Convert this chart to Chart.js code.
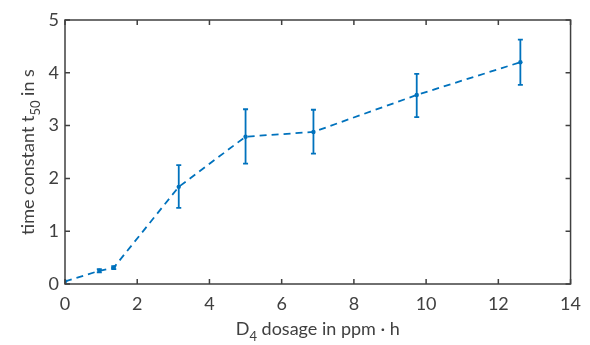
<!DOCTYPE html>
<html>
<head>
<meta charset="utf-8">
<script src="https://cdn.jsdelivr.net/npm/chart.js@4"></script>
<style>
  html, body { margin: 0; padding: 0; background: #fff; }
  #wrap { width: 590px; height: 345px; }
</style>
</head>
<body>
<div id="wrap"><canvas id="c" width="590" height="345"></canvas></div>
<script>
// D4 dosage (ppm·h) vs time constant t50 (s), with error bars
const dosage  = [0, 0.95, 1.35, 3.15, 5.0, 6.88, 9.74, 12.61];
const t50     = [0.05, 0.25, 0.31, 1.84, 2.79, 2.88, 3.58, 4.20];
const t50High = [0.05, 0.28, 0.34, 2.25, 3.31, 3.30, 3.98, 4.63];
const t50Low  = [0.05, 0.22, 0.28, 1.44, 2.28, 2.47, 3.16, 3.77];

const xTicks = [0, 2, 4, 6, 8, 10, 12, 14];
const yTicks = [0, 1, 2, 3, 4, 5];

const BLUE = "#0072BD";
const AXIS = "#404040";
const FONT = "Lato, 'Open Sans', sans-serif";

const $ = (id) => document.getElementById(id);

// error bars drawn through the scales
const errorBars = {
  id: "errorBars",
  afterDatasetsDraw(chart) {
    const { ctx, scales: { x, y } } = chart;
    ctx.save();
    ctx.strokeStyle = BLUE;
    ctx.lineWidth = 1.8;
    dosage.forEach((d, i) => {
      if (t50High[i] === t50Low[i]) return;
      const px = x.getPixelForValue(d);
      const top = y.getPixelForValue(t50High[i]);
      const bot = y.getPixelForValue(t50Low[i]);
      ctx.beginPath();
      ctx.moveTo(px, top); ctx.lineTo(px, bot);
      ctx.moveTo(px - 2.5, top); ctx.lineTo(px + 2.5, top);
      ctx.moveTo(px - 2.5, bot); ctx.lineTo(px + 2.5, bot);
      ctx.stroke();
    });
    ctx.restore();
  },
};

// MATLAB-like box with inward ticks on all sides, plus axis titles with subscripts
const frame = {
  id: "frame",
  afterDraw(chart) {
    const { ctx, chartArea: a, scales: { x, y } } = chart;
    ctx.save();
    ctx.strokeStyle = AXIS;
    ctx.lineWidth = 1.5;
    ctx.strokeRect(a.left, a.top, a.right - a.left, a.bottom - a.top);
    ctx.beginPath();
    xTicks.forEach((v) => {
      const px = x.getPixelForValue(v);
      ctx.moveTo(px, a.bottom); ctx.lineTo(px, a.bottom - 5);
      ctx.moveTo(px, a.top); ctx.lineTo(px, a.top + 5);
    });
    yTicks.forEach((v) => {
      const py = y.getPixelForValue(v);
      ctx.moveTo(a.left, py); ctx.lineTo(a.left + 5, py);
      ctx.moveTo(a.right, py); ctx.lineTo(a.right - 5, py);
    });
    ctx.stroke();

    ctx.fillStyle = AXIS;
    ctx.textBaseline = "alphabetic";
    const big = "18px " + FONT, small = "13px " + FONT;
    const drawParts = (parts, cx, cy) => {
      let w = 0;
      parts.forEach((p) => { ctx.font = p.sub ? small : big; w += ctx.measureText(p.t).width; });
      let cur = cx - w / 2;
      parts.forEach((p) => {
        ctx.font = p.sub ? small : big;
        ctx.fillText(p.t, cur, cy + (p.sub ? 6 : 0));
        cur += ctx.measureText(p.t).width;
      });
    };
    // x title
    drawParts([{ t: "D" }, { t: "4", sub: true }, { t: " dosage in ppm · h" }],
      (a.left + a.right) / 2, 335);
    // y title
    ctx.translate(34, (a.top + a.bottom) / 2);
    ctx.rotate(-Math.PI / 2);
    drawParts([{ t: "time constant t" }, { t: "50", sub: true }, { t: " in s" }], 0, 0);
    ctx.restore();
  },
};

new Chart($("c"), {
  type: "scatter",
  data: {
    datasets: [{
      data: dosage.map((d, i) => ({ x: d, y: t50[i] })),
      showLine: true,
      borderColor: BLUE,
      backgroundColor: BLUE,
      borderWidth: 1.8,
      borderDash: [7, 5],
      pointRadius: 2.2,
      pointBorderWidth: 0,
    }],
  },
  options: {
    responsive: false,
    animation: false,
    layout: { padding: { top: 20, right: 17, left: 0, bottom: 0 } },
    plugins: { legend: { display: false }, tooltip: { enabled: false } },
    scales: {
      x: {
        type: "linear", min: 0, max: 14,
        afterBuildTicks: (s) => { s.ticks = xTicks.map((v) => ({ value: v })); },
        afterFit: (s) => { s.height = 61; },
        grid: { display: false, drawTicks: false },
        border: { display: false },
        ticks: { color: AXIS, font: { family: FONT, size: 18 }, padding: 9 },
      },
      y: {
        type: "linear", min: 0, max: 5,
        afterBuildTicks: (s) => { s.ticks = yTicks.map((v) => ({ value: v })); },
        afterFit: (s) => { s.width = 65; },
        grid: { display: false, drawTicks: false },
        border: { display: false },
        ticks: { color: AXIS, font: { family: FONT, size: 18 }, padding: 6 },
      },
    },
  },
  plugins: [errorBars, frame],
});
</script>
</body>
</html>
